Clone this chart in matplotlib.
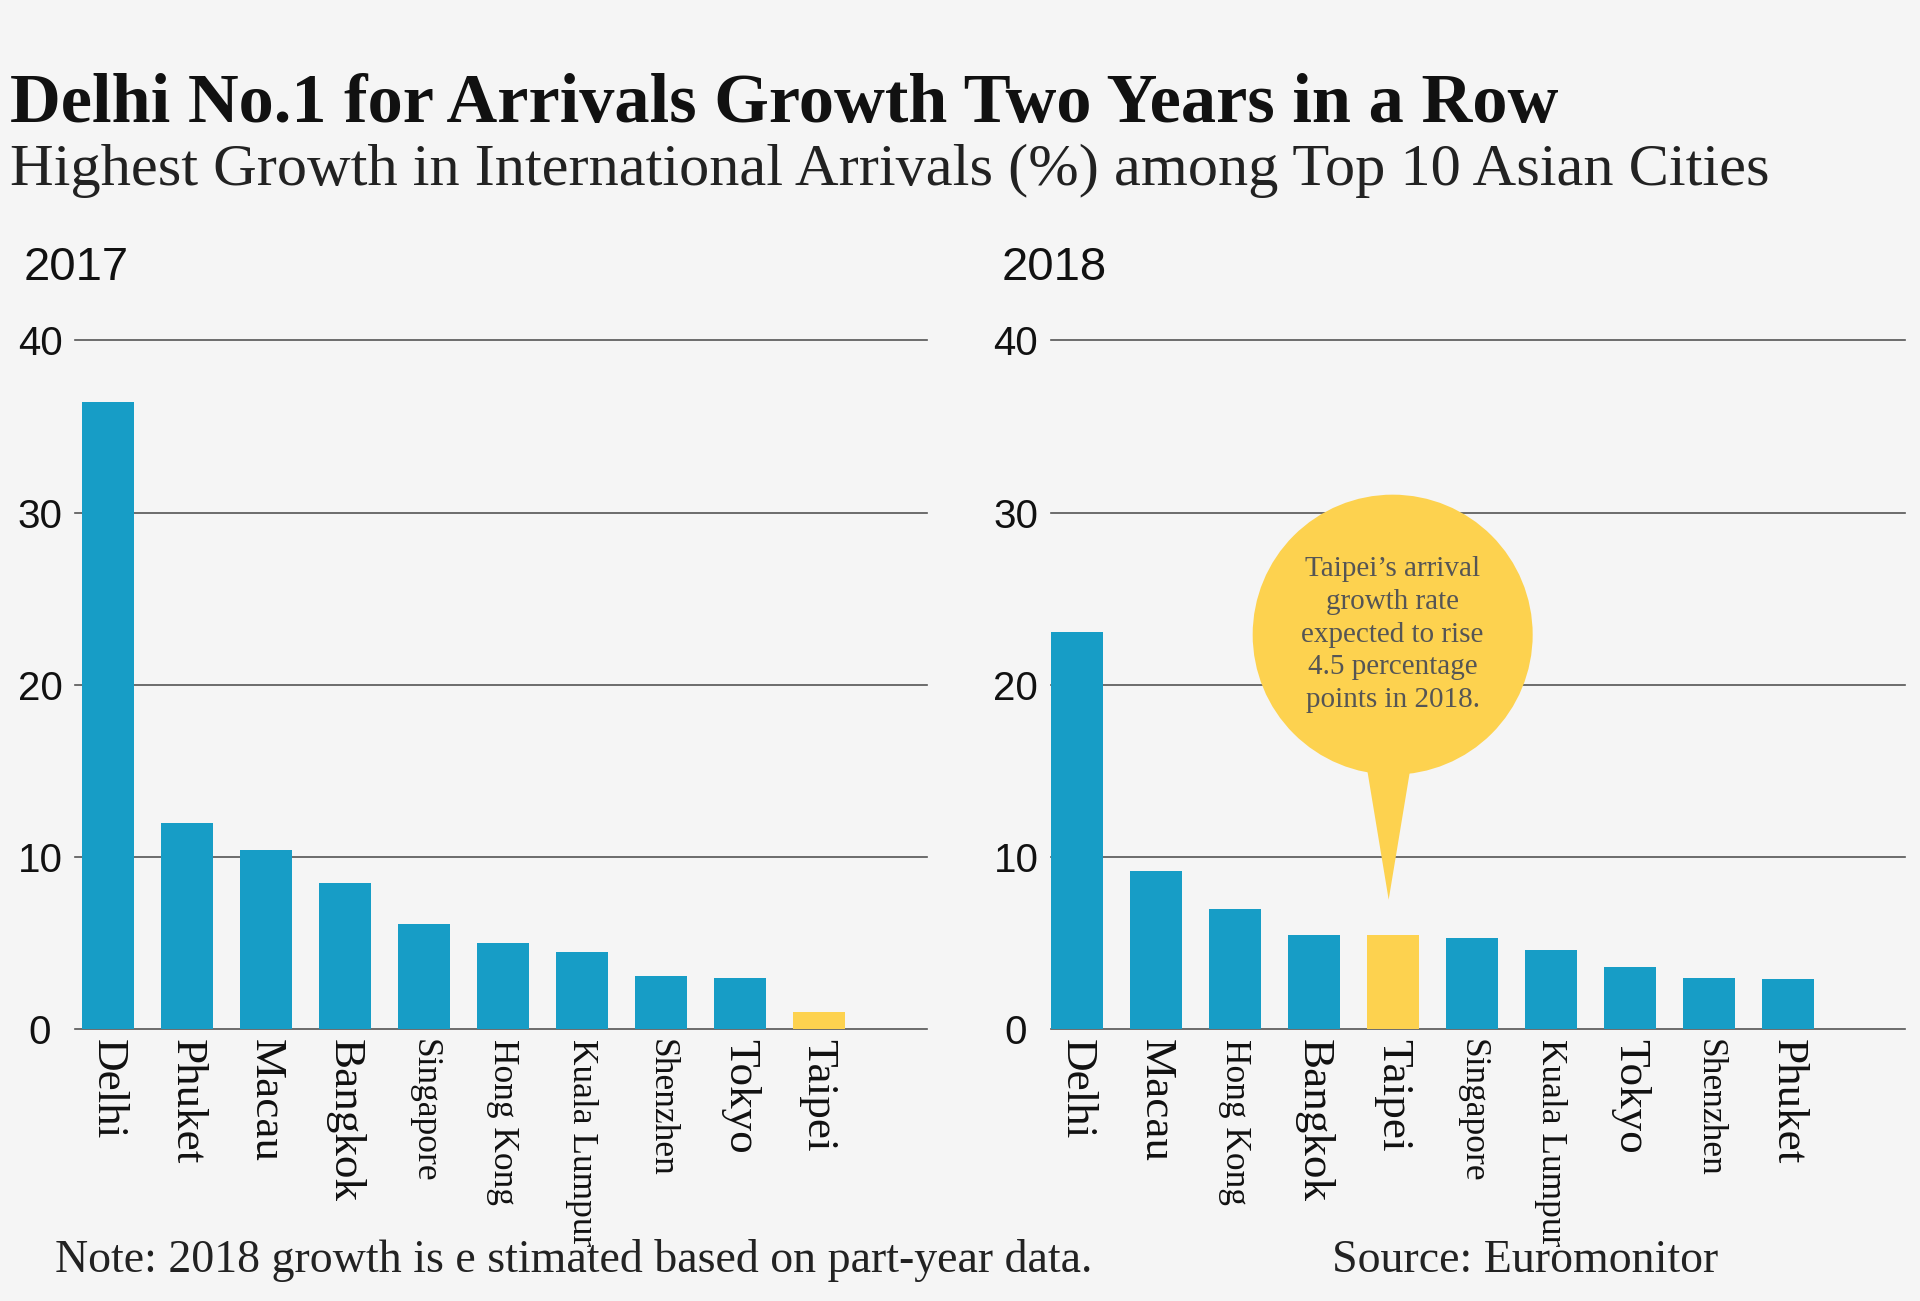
"""Recreate the two-panel arrivals growth bar chart (2017 vs 2018)."""

import matplotlib

matplotlib.use("Agg")
import matplotlib.pyplot as plt
import matplotlib.transforms as mtransforms
from matplotlib.patches import Circle, Polygon

# --- data (growth in international arrivals, %) ---
CITIES_2017 = ["Delhi", "Phuket", "Macau", "Bangkok", "Singapore",
               "Hong Kong", "Kuala Lumpur", "Shenzhen", "Tokyo", "Taipei"]
GROWTH_2017 = [36.4, 12.0, 10.4, 8.5, 6.1, 5.0, 4.5, 3.1, 3.0, 1.0]

CITIES_2018 = ["Delhi", "Macau", "Hong Kong", "Bangkok", "Taipei",
               "Singapore", "Kuala Lumpur", "Tokyo", "Shenzhen", "Phuket"]
GROWTH_2018 = [23.1, 9.2, 7.0, 5.5, 5.5, 5.3, 4.6, 3.6, 3.0, 2.9]

Y_TICKS = [0, 10, 20, 30, 40]
HIGHLIGHT = "Taipei"

TITLE = "Delhi No.1 for Arrivals Growth Two Years in a Row"
SUBTITLE = "Highest Growth in International Arrivals (%) among Top 10 Asian Cities"
CALLOUT = ("Taipei\u2019s arrival\ngrowth rate\nexpected to rise\n"
           "4.5 percentage\npoints in 2018.")
NOTE = "Note: 2018 growth is e stimated based on part-year data."
SOURCE = "Source: Euromonitor"

# --- style ---
BG = "#f5f5f5"
BLUE = "#179dc6"
YELLOW = "#fdd24f"
GRID = "#555555"
SERIF = ["Liberation Serif", "DejaVu Serif"]
SANS = ["Liberation Sans", "DejaVu Sans"]
SMALL_NAMES = {"Singapore", "Hong Kong", "Kuala Lumpur", "Shenzhen"}

W, H = 1920, 1301


def draw_panel(ax, cities, values, xlim):
    x = list(range(len(cities)))
    colors = [YELLOW if c == HIGHLIGHT else BLUE for c in cities]
    ax.set_facecolor(BG)
    ax.bar(x, values, width=0.66, color=colors, zorder=2)
    ax.set_xlim(*xlim)
    ax.set_ylim(0, 40)

    # gridlines behind the bars, not clipped so the top one stays whole
    for y in Y_TICKS:
        ax.axhline(y, color=GRID, linewidth=1.2, zorder=1, clip_on=False)
    for spine in ax.spines.values():
        spine.set_visible(False)

    ax.set_yticks(Y_TICKS)
    ax.set_yticklabels([str(v) for v in Y_TICKS], family=SANS,
                       fontsize=29, ha="center", color="#111111")
    ax.tick_params(axis="y", length=0, pad=25)

    ax.set_xticks(x)
    ax.set_xticklabels(cities, rotation=-90, ha="center", va="top",
                       family=SERIF, color="#111111")
    for lab in ax.get_xticklabels():
        lab.set_fontsize(25.5 if lab.get_text() in SMALL_NAMES else 32.5)
    ax.tick_params(axis="x", length=0, pad=7)


def add_callout(fig, ax, xi, value):
    # shape defined in inches, anchored to the top of the highlighted bar
    anchor = fig.dpi_scale_trans + mtransforms.ScaledTranslation(
        xi, value, ax.transData)
    tail = Polygon([(-0.28, 1.8), (0.20, 1.8), (-0.04, 0.35)], closed=True,
                   transform=anchor, facecolor=YELLOW, edgecolor="none",
                   zorder=5, clip_on=False)
    bubble = Circle((0, 3.0), 1.40, transform=anchor, facecolor=YELLOW,
                    edgecolor="none", zorder=5, clip_on=False)
    ax.add_patch(tail)
    ax.add_patch(bubble)
    ax.text(0, 3.0, CALLOUT, transform=anchor, ha="center", va="center",
            family=SERIF, fontsize=21, color="#555555", linespacing=1.33,
            zorder=6)


def main():
    fig = plt.figure(figsize=(W / 100, H / 100), dpi=100)
    fig.patch.set_facecolor(BG)

    bottom = 1 - 1029.4 / H
    height = 689 / H
    ax1 = fig.add_axes([74.8 / W, bottom, 852 / W, height])
    ax2 = fig.add_axes([1050.6 / W, bottom, 854 / W, height])

    draw_panel(ax1, CITIES_2017, GROWTH_2017, (-0.42, 10.37))
    draw_panel(ax2, CITIES_2018, GROWTH_2018, (-0.33, 10.48))

    i = CITIES_2018.index(HIGHLIGHT)
    add_callout(fig, ax2, i, GROWTH_2018[i])

    fig.text(10 / W, 1 - 122 / H, TITLE, family=SERIF, fontsize=50.7,
             fontweight="bold", color="#111111", va="baseline", ha="left")
    fig.text(10 / W, 1 - 185 / H, SUBTITLE, family=SERIF, fontsize=43.5,
             color="#222222", va="baseline", ha="left")
    fig.text(24 / W, 1 - 280 / H, "2017", family=SANS, fontsize=34,
             color="#111111", va="baseline", ha="left")
    fig.text(1002 / W, 1 - 280 / H, "2018", family=SANS, fontsize=34,
             color="#111111", va="baseline", ha="left")

    fig.text(55 / W, 1 - 1272 / H, NOTE, family=SERIF, fontsize=33,
             color="#222222", va="baseline", ha="left")
    fig.text(1332 / W, 1 - 1272 / H, SOURCE, family=SERIF, fontsize=33,
             color="#222222", va="baseline", ha="left")

    fig.savefig("out.png", dpi=100, facecolor=fig.get_facecolor())
    plt.close(fig)


if __name__ == "__main__":
    main()
